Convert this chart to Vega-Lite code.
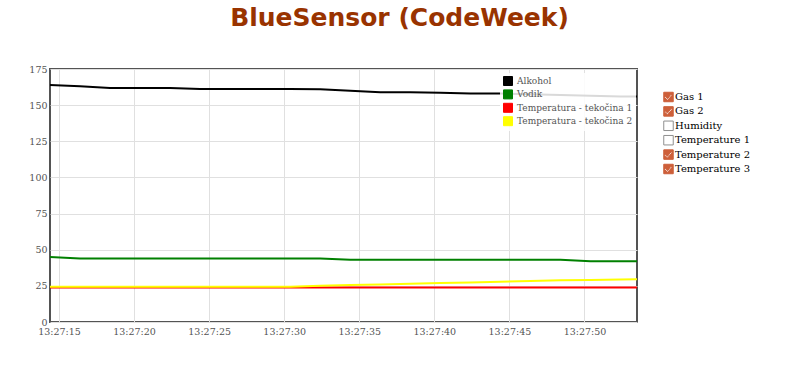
{
  "$schema": "https://vega.github.io/schema/vega-lite/v6.json",
  "width": 587,
  "height": 253,
  "autosize": {"type": "none"},
  "padding": {"left": 50, "top": 69, "right": 163, "bottom": 52},
  "background": "white",
  "title": {
    "text": "BlueSensor (CodeWeek)",
    "font": "DejaVu Sans",
    "fontSize": 25,
    "fontWeight": "bold",
    "color": "#993300",
    "anchor": "middle",
    "frame": "group",
    "offset": 33,
    "dx": 56
  },
  "config": {
    "view": {"stroke": "#545454", "strokeWidth": 2},
    "axis": {
      "labelFont": "DejaVu Serif",
      "labelFontSize": 9.5,
      "labelColor": "#545454",
      "ticks": false,
      "domain": false,
      "gridColor": "#e0e0e0",
      "gridWidth": 1,
      "title": null
    }
  },
  "datasets": {
    "readings": [
      {"t": "2024-01-01T13:27:14.400", "Alkohol": 164, "Vodik": 45, "Temperatura - tekočina 1": 23.8, "Temperatura - tekočina 2": 24.3},
      {"t": "2024-01-01T13:27:16.400", "Alkohol": 163, "Vodik": 44, "Temperatura - tekočina 1": 23.8, "Temperatura - tekočina 2": 24.3},
      {"t": "2024-01-01T13:27:18.400", "Alkohol": 161.8, "Vodik": 44, "Temperatura - tekočina 1": 23.8, "Temperatura - tekočina 2": 24.3},
      {"t": "2024-01-01T13:27:20.400", "Alkohol": 161.8, "Vodik": 44, "Temperatura - tekočina 1": 23.8, "Temperatura - tekočina 2": 24.3},
      {"t": "2024-01-01T13:27:22.400", "Alkohol": 161.8, "Vodik": 44, "Temperatura - tekočina 1": 23.8, "Temperatura - tekočina 2": 24.3},
      {"t": "2024-01-01T13:27:24.400", "Alkohol": 161.1, "Vodik": 44, "Temperatura - tekočina 1": 23.8, "Temperatura - tekočina 2": 24.3},
      {"t": "2024-01-01T13:27:26.400", "Alkohol": 161.1, "Vodik": 44, "Temperatura - tekočina 1": 23.8, "Temperatura - tekočina 2": 24.3},
      {"t": "2024-01-01T13:27:28.400", "Alkohol": 161.1, "Vodik": 44, "Temperatura - tekočina 1": 23.8, "Temperatura - tekočina 2": 24.3},
      {"t": "2024-01-01T13:27:30.400", "Alkohol": 161.1, "Vodik": 44, "Temperatura - tekočina 1": 23.8, "Temperatura - tekočina 2": 24.4},
      {"t": "2024-01-01T13:27:32.400", "Alkohol": 161, "Vodik": 44, "Temperatura - tekočina 1": 23.8, "Temperatura - tekočina 2": 25},
      {"t": "2024-01-01T13:27:34.400", "Alkohol": 160, "Vodik": 43, "Temperatura - tekočina 1": 23.8, "Temperatura - tekočina 2": 25.6},
      {"t": "2024-01-01T13:27:36.400", "Alkohol": 159, "Vodik": 43, "Temperatura - tekočina 1": 23.8, "Temperatura - tekočina 2": 26},
      {"t": "2024-01-01T13:27:38.400", "Alkohol": 159, "Vodik": 43, "Temperatura - tekočina 1": 23.8, "Temperatura - tekočina 2": 26.4},
      {"t": "2024-01-01T13:27:40.400", "Alkohol": 158.5, "Vodik": 43, "Temperatura - tekočina 1": 23.8, "Temperatura - tekočina 2": 26.9},
      {"t": "2024-01-01T13:27:42.400", "Alkohol": 158.1, "Vodik": 43, "Temperatura - tekočina 1": 23.8, "Temperatura - tekočina 2": 27.4},
      {"t": "2024-01-01T13:27:44.400", "Alkohol": 158.1, "Vodik": 43, "Temperatura - tekočina 1": 23.8, "Temperatura - tekočina 2": 27.9},
      {"t": "2024-01-01T13:27:46.400", "Alkohol": 157.5, "Vodik": 43, "Temperatura - tekočina 1": 23.8, "Temperatura - tekočina 2": 28.4},
      {"t": "2024-01-01T13:27:48.400", "Alkohol": 157, "Vodik": 43, "Temperatura - tekočina 1": 23.8, "Temperatura - tekočina 2": 28.8},
      {"t": "2024-01-01T13:27:50.400", "Alkohol": 156.5, "Vodik": 42, "Temperatura - tekočina 1": 23.8, "Temperatura - tekočina 2": 29.1},
      {"t": "2024-01-01T13:27:52.400", "Alkohol": 156, "Vodik": 42, "Temperatura - tekočina 1": 23.8, "Temperatura - tekočina 2": 29.4},
      {"t": "2024-01-01T13:27:54.400", "Alkohol": 156, "Vodik": 42, "Temperatura - tekočina 1": 23.8, "Temperatura - tekočina 2": 29.7}
    ],
    "options": [
      {"option": "Gas 1", "state": "checked"},
      {"option": "Gas 2", "state": "checked"},
      {"option": "Humidity", "state": "unchecked"},
      {"option": "Temperature 1", "state": "unchecked"},
      {"option": "Temperature 2", "state": "checked"},
      {"option": "Temperature 3", "state": "checked"}
    ]
  },
  "layer": [
    {
      "data": {"name": "readings"},
      "transform": [
        {"fold": ["Alkohol", "Vodik", "Temperatura - tekočina 1", "Temperatura - tekočina 2"], "as": ["series", "value"]}
      ],
      "mark": {"type": "line", "strokeWidth": 2, "clip": true},
      "encoding": {
        "x": {
          "field": "t",
          "type": "temporal",
          "scale": {
            "domain": [
              {"year": 2024, "month": 1, "date": 1, "hours": 13, "minutes": 27, "seconds": 14, "milliseconds": 400},
              {"year": 2024, "month": 1, "date": 1, "hours": 13, "minutes": 27, "seconds": 53, "milliseconds": 500}
            ],
            "nice": false
          },
          "axis": {"format": "%H:%M:%S", "tickCount": 8, "labelPadding": 4, "labelFlush": false}
        },
        "y": {
          "field": "value",
          "type": "quantitative",
          "scale": {"domain": [0, 175], "nice": false},
          "axis": {"values": [0, 25, 50, 75, 100, 125, 150, 175], "labelPadding": 3}
        },
        "color": {
          "field": "series",
          "type": "nominal",
          "scale": {
            "domain": ["Alkohol", "Vodik", "Temperatura - tekočina 1", "Temperatura - tekočina 2"],
            "range": ["#000000", "#008000", "#ff0000", "#ffff00"]
          },
          "legend": {
            "title": null,
            "orient": "none",
            "legendX": 450,
            "legendY": 4,
            "padding": 3,
            "fillColor": "rgba(255,255,255,0.85)",
            "symbolType": "square",
            "symbolSize": 81,
            "labelFont": "DejaVu Serif",
            "labelFontSize": 9,
            "labelColor": "#545454",
            "labelOffset": 4,
            "rowPadding": -0.6,
            "encode": {
              "symbols": {
                "update": {
                  "fill": {"scale": "color", "field": "value"},
                  "stroke": {"value": "#cccccc"},
                  "strokeWidth": {"value": 1}
                }
              }
            }
          }
        }
      }
    },
    {
      "data": {"name": "options"},
      "mark": {"type": "point", "filled": true, "opacity": 0},
      "encoding": {
        "fill": {
          "field": "option",
          "type": "nominal",
          "scale": {
            "domain": ["Gas 1", "Gas 2", "Humidity", "Temperature 1", "Temperature 2", "Temperature 3"],
            "range": ["#cd5f3a", "#cd5f3a", "#ffffff", "#ffffff", "#cd5f3a", "#cd5f3a"]
          },
          "legend": {
            "title": null,
            "orient": "none",
            "legendX": 613,
            "legendY": 22.5,
            "padding": 0,
            "symbolSize": 90,
            "symbolOpacity": 1,
            "symbolStrokeWidth": 1,
            "labelFont": "DejaVu Serif",
            "labelFontSize": 10,
            "labelColor": "#000000",
            "labelOffset": 1,
            "rowPadding": -0.6
          }
        },
        "stroke": {
          "field": "option",
          "type": "nominal",
          "scale": {
            "domain": ["Gas 1", "Gas 2", "Humidity", "Temperature 1", "Temperature 2", "Temperature 3"],
            "range": ["#cd5f3a", "#cd5f3a", "#8f8f8f", "#8f8f8f", "#cd5f3a", "#cd5f3a"]
          },
          "legend": {
            "title": null,
            "orient": "none",
            "legendX": 613,
            "legendY": 22.5,
            "padding": 0,
            "symbolSize": 90,
            "symbolOpacity": 1,
            "symbolStrokeWidth": 1,
            "labelFont": "DejaVu Serif",
            "labelFontSize": 10,
            "labelColor": "#000000",
            "labelOffset": 1,
            "rowPadding": -0.6
          }
        },
        "shape": {
          "field": "option",
          "type": "nominal",
          "scale": {
            "domain": ["Gas 1", "Gas 2", "Humidity", "Temperature 1", "Temperature 2", "Temperature 3"],
            "range": [
              "M-1,-1L1,-1L1,1L-1,1ZM-0.85,0.12L-0.2,0.7L0.78,-0.4L0.55,-0.6L-0.2,0.35L-0.7,-0.1Z",
              "M-1,-1L1,-1L1,1L-1,1ZM-0.85,0.12L-0.2,0.7L0.78,-0.4L0.55,-0.6L-0.2,0.35L-0.7,-0.1Z",
              "M-1,-1L1,-1L1,1L-1,1Z",
              "M-1,-1L1,-1L1,1L-1,1Z",
              "M-1,-1L1,-1L1,1L-1,1ZM-0.85,0.12L-0.2,0.7L0.78,-0.4L0.55,-0.6L-0.2,0.35L-0.7,-0.1Z",
              "M-1,-1L1,-1L1,1L-1,1ZM-0.85,0.12L-0.2,0.7L0.78,-0.4L0.55,-0.6L-0.2,0.35L-0.7,-0.1Z"
            ]
          },
          "legend": {
            "title": null,
            "orient": "none",
            "legendX": 613,
            "legendY": 22.5,
            "padding": 0,
            "symbolSize": 90,
            "symbolOpacity": 1,
            "symbolStrokeWidth": 1,
            "labelFont": "DejaVu Serif",
            "labelFontSize": 10,
            "labelColor": "#000000",
            "labelOffset": 1,
            "rowPadding": -0.6
          }
        }
      }
    }
  ]
}
